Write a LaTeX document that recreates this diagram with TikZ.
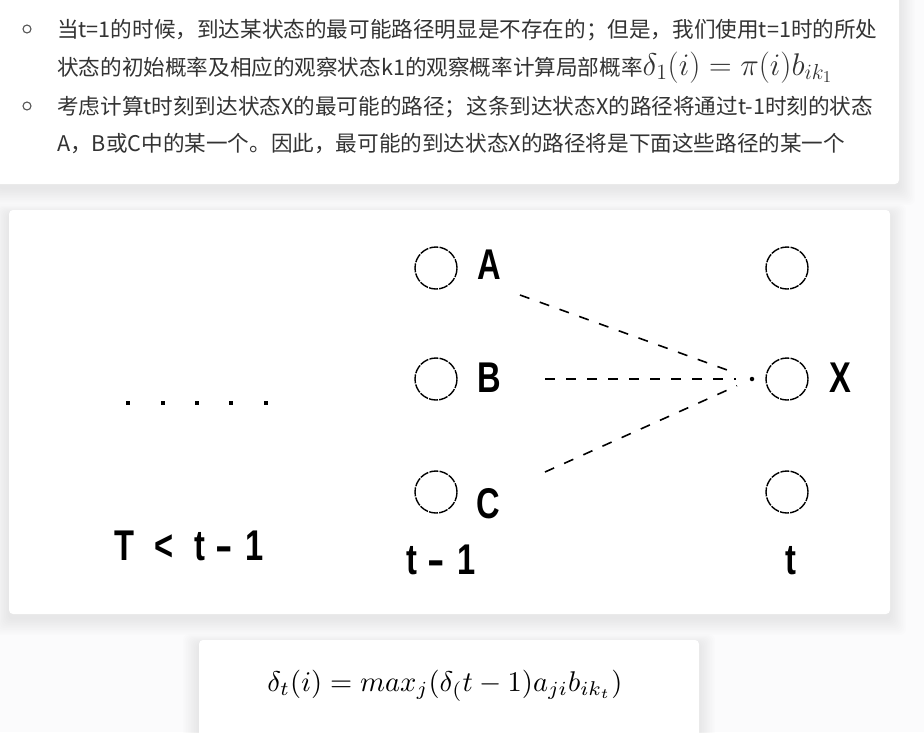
\documentclass[tikz,border=0pt]{standalone}
\usepackage{fontspec}
\newfontfamily\cjk{Noto Sans CJK SC}
\newfontfamily\labfont{Liberation Sans}
\definecolor{pagebg}{HTML}{FBFBFC}
\definecolor{txt}{HTML}{333333}
\definecolor{bulletc}{HTML}{555555}
\newcommand\lbl[1]{\scalebox{0.76}[1]{\labfont\bfseries\fontsize{43}{43}\selectfont #1}}
\newcommand\hy{\scalebox{1.6}[1]{-}}
\newcommand\cardshade[4]{%
  \foreach \i in {1,...,10}{%
    \fill[black,opacity=0.0065,rounded corners=6pt]
      (#1-\i*1.6,#2-\i*1.0+4) rectangle (#3+\i*1.6,#4+\i*1.7+4);}}
\tikzset{
  card/.style={fill=white,rounded corners=4pt},
  para/.style={anchor=base west,inner sep=0pt,text=txt,font=\cjk\fontsize{21.6}{24}\selectfont},
  bulletmark/.style={draw=bulletc,line width=1.1pt,circle,minimum size=8pt,inner sep=0pt},
  state/.style={draw=black,line width=1.4pt,circle,minimum size=42pt,inner sep=0pt,dash pattern=on 9pt off 1.2pt},
  lab/.style={inner sep=0pt},
  pathline/.style={draw=black,line width=1.6pt,dash pattern=on 10pt off 11pt,shorten >=14pt},
  smalldot/.style={fill=black,circle,minimum size=4.5pt,inner sep=0pt}
}
\begin{document}
\begin{tikzpicture}[x=1pt,y=-1pt]
\useasboundingbox (0,0) rectangle (924,732);
\fill[pagebg] (0,0) rectangle (924,732);
% cards
\cardshade{0}{-10}{899}{184}
\fill[card] (-10,-10) rectangle (899,184);
\cardshade{9}{210}{890}{614}
\fill[card] (9,210) rectangle (890,614);
\cardshade{199}{640}{699}{760}
\fill[card] (199,640) rectangle (699,760);

% top text
\node[bulletmark] (b1) at (27,29) {};
\node[bulletmark] (b2) at (27,106) {};
\node[para] (l1) at (57,37) {当t=1的时候，到达某状态的最可能路径明显是不存在的；但是，我们使用t=1时的所处};
\node[para] (l2) at (57,75) {状态的初始概率及相应的观察状态k1的观察概率计算局部概率\resizebox{190pt}{!}{$\delta_1(i) = \pi(i)b_{ik_1}$}};
\node[para] (l3) at (57,114) {考虑计算t时刻到达状态X的最可能的路径；这条到达状态X的路径将通过t-1时刻的状态};
\node[para] (l4) at (57,151) {A，B或C中的某一个。因此，最可能的到达状态X的路径将是下面这些路径的某一个};

% diagram
\node[state] (cA) at (436,268) {};
\node[state] (cB) at (436,379) {};
\node[state] (cC) at (436,492) {};
\node[state] (cT) at (787,268) {};
\node[state] (cX) at (787,379) {};
\node[state] (cD) at (787,492) {};
\node[lab] (A) at (489,265) {\lbl{A}};
\node[lab] (B) at (489,378) {\lbl{B}};
\node[lab] (C) at (488,504) {\lbl{C}};
\node[lab] (X) at (840,378) {\lbl{X}};
\node[smalldot] (dot) at (752,379) {};
\coordinate (sA) at (520,295);
\coordinate (sB) at (545,379);
\coordinate (sC) at (545,472);
\draw[pathline] (sA) -- (dot);
\draw[pathline] (sB) -- (dot);
\draw[pathline] (sC) -- (dot);
\foreach \k/\xx in {1/128,2/163,3/197,4/231,5/266}{
  \fill[black] (\xx-2.2,403-2.2) rectangle (\xx+2.2,403+2.2);
}
\node[lab] (tlt) at (189,546) {\lbl{T\hspace{26pt}<\hspace{28pt}t\hspace{14pt}\hy\hspace{16pt}1}};
\node[lab] (tm1) at (441,560) {\lbl{t\hspace{14pt}\hy\hspace{16pt}1}};
\node[lab] (tt) at (791,561) {\lbl{t}};

% bottom formula
\node[inner sep=0pt] (f) at (445,686) {\resizebox{355pt}{!}{$\delta_t(i) = max_j(\delta_(t-1)a_{ji}b_{ik_t})$}};
\end{tikzpicture}
\end{document}
